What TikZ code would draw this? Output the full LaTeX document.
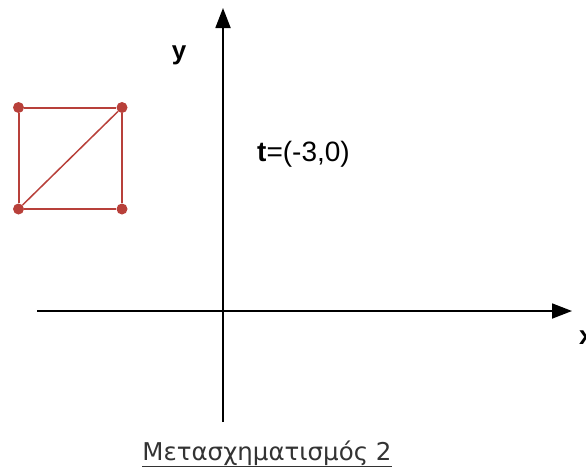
\documentclass[tikz,border=0pt]{standalone}
\usepackage{fontspec}
\setmainfont{Liberation Sans}
\newfontfamily\capfont{DejaVu Sans}
\usetikzlibrary{arrows.meta}
\definecolor{sqred}{HTML}{B8403A}
\definecolor{capgrey}{HTML}{333333}
\tikzset{
  axis/.style={line width=1.8pt,-{Triangle[length=20pt,width=15pt]}},
  edge/.style={draw=sqred,line width=2pt},
  vert/.style={circle,fill=sqred,inner sep=0pt,minimum size=11pt},
  lbl/.style={font=\fontsize{28}{32}\selectfont, inner sep=0pt},
  axlbl/.style={font=\fontsize{26}{30}\selectfont\bfseries, inner sep=0pt}
}
\begin{document}
\begin{tikzpicture}[x=1pt,y=-1pt]
\useasboundingbox (0,0) rectangle (586,471);
% axes
\coordinate (yb) at (223,422);
\coordinate (yt) at (223,8);
\coordinate (xl) at (37,311);
\coordinate (xr) at (572,311);
\draw[axis] (yb) -- (yt);
\draw[axis] (xl) -- (xr);
\node[axlbl] (ylab) at (179,55) {y};
\node[axlbl,anchor=west] (xlab) at (579,338) {x};
\node[lbl,anchor=west] (t) at (257,154) {\textbf{t}=(-3,0)};
% square
\node[vert] (a) at (18.5,107.5) {};
\node[vert] (b) at (122,107.5) {};
\node[vert] (c) at (122,209) {};
\node[vert] (d) at (18.5,209) {};
\draw[edge] (a) -- (b) -- (c) -- (d) -- (a);
\draw[edge,line width=1.5pt] (d) -- (b);
% caption
\node[inner sep=0pt,text=capgrey,font=\capfont\fontsize{24.5}{28}\selectfont,anchor=base] (cap) at (267,460) {\underline{Μετασχηματισμός 2}};
\end{tikzpicture}
\end{document}
